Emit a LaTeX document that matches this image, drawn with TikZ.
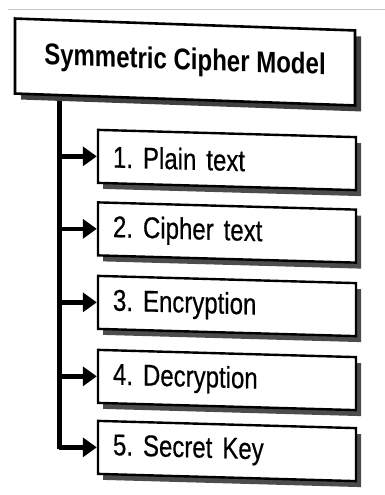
\documentclass[tikz,border=0pt]{standalone}
\usepackage{fontspec}
\newfontfamily\labelfont[FakeStretch=0.8]{Liberation Sans}
\newfontfamily\itemfont[FakeStretch=0.8, FakeBold=0.5]{Liberation Sans}
\usetikzlibrary{arrows.meta,shadows,backgrounds}
\frenchspacing
\begin{document}
\begin{tikzpicture}[x=1pt,y=-1pt,
  heading/.style={draw=black, line width=2.6pt, fill=white, rectangle,
    inner sep=0pt, minimum width=340pt, minimum height=75pt,
    font=\labelfont\bfseries\fontsize{30}{32}\selectfont,
    yslant=-0.035,
    drop shadow={shadow xshift=6pt, shadow yshift=-6pt, fill=black!75, opacity=1}},
  card/.style={draw=black, line width=2.4pt, fill=white, rectangle,
    inner xsep=15pt, inner ysep=0pt, minimum height=53pt,
    text width=228pt, align=left,
    font=\itemfont\fontsize{30}{32}\selectfont,
    yslant=-0.028,
    drop shadow={shadow xshift=5pt, shadow yshift=-6pt, fill=black!70, opacity=1}},
  trunk/.style={line width=5pt, line join=miter},
  branch/.style={line width=4.5pt, -{Triangle[length=14pt,width=19pt]}},
]
\useasboundingbox (0,0) rectangle (385,495);

% title and items
\node[heading] (title) at (185,62) {Symmetric Cipher Model};
\node[card] (p1) at (227,160) {1. Plain text};
\node[card] (p2) at (227,232.5) {2. Cipher text};
\node[card] (p3) at (227,306) {3. Encryption};
\node[card] (p4) at (227,380) {4. Decryption};
\node[card] (p5) at (227,451) {5. Secret Key};

% page, edge line and the vertical trunk behind the boxes
\coordinate (tx) at (59,0);
\begin{pgfonlayer}{background}
  \fill[white] (0,0) rectangle (385,495);
  \draw[black!22, line width=1pt] (8,10) -- (385,10);
  \draw[trunk] (title.center -| tx) -- ([yshift=-2pt]p5.west -| tx);
\end{pgfonlayer}

% branches into each item
\foreach \n in {p1,p2,p3,p4,p5}
  \draw[branch] (\n.west -| tx) -- (\n.west);
\end{tikzpicture}
\end{document}
